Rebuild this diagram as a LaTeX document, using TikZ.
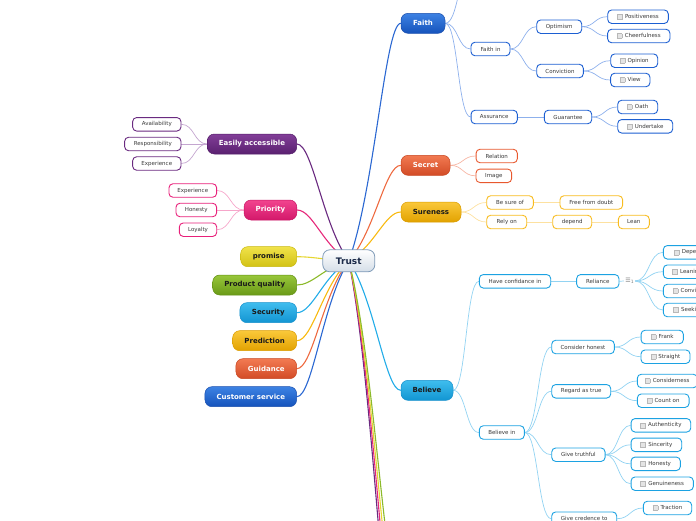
\documentclass[tikz,border=0pt]{standalone}
\usepackage{fontspec}
\setmainfont{DejaVu Sans}
\usetikzlibrary{calc,backgrounds}
\definecolor{bluetop}{HTML}{3D82E3}
\definecolor{bluebot}{HTML}{1553BC}
\definecolor{bluebd}{HTML}{1A4FAE}
\definecolor{blueln}{HTML}{2B68D2}
\definecolor{bluesub}{HTML}{1C5FD2}
\definecolor{bluesl}{HTML}{8DB0EC}
\definecolor{redtop}{HTML}{F27A52}
\definecolor{redbot}{HTML}{D24B26}
\definecolor{redbd}{HTML}{C8451F}
\definecolor{redln}{HTML}{EE6A40}
\definecolor{redsub}{HTML}{E8582E}
\definecolor{redsl}{HTML}{F7B6A4}
\definecolor{goldtop}{HTML}{FAC83A}
\definecolor{goldbot}{HTML}{E2A200}
\definecolor{goldbd}{HTML}{DA9C00}
\definecolor{goldln}{HTML}{F8BA10}
\definecolor{goldsub}{HTML}{F8BC20}
\definecolor{goldsl}{HTML}{FDE1A0}
\definecolor{skytop}{HTML}{3FBDEE}
\definecolor{skybot}{HTML}{1295D2}
\definecolor{skybd}{HTML}{1590CC}
\definecolor{skyln}{HTML}{22ACE8}
\definecolor{skysub}{HTML}{1CA2E2}
\definecolor{skysl}{HTML}{92D3F2}
\definecolor{purtop}{HTML}{823E98}
\definecolor{purbot}{HTML}{5A2070}
\definecolor{purbd}{HTML}{521C68}
\definecolor{purln}{HTML}{6A2A80}
\definecolor{pursub}{HTML}{6A2A80}
\definecolor{pursl}{HTML}{C4A6D0}
\definecolor{pintop}{HTML}{F2448F}
\definecolor{pinbot}{HTML}{D3186A}
\definecolor{pinbd}{HTML}{C81464}
\definecolor{pinln}{HTML}{E6287A}
\definecolor{pinsub}{HTML}{E8207A}
\definecolor{pinsl}{HTML}{F6A6CA}
\definecolor{yeltop}{HTML}{F0E24A}
\definecolor{yelbot}{HTML}{D2C214}
\definecolor{yelbd}{HTML}{C8B810}
\definecolor{yelln}{HTML}{E6D630}
\definecolor{grntop}{HTML}{98C63A}
\definecolor{grnbot}{HTML}{6A9A18}
\definecolor{grnbd}{HTML}{629014}
\definecolor{grnln}{HTML}{8CBA2A}
\definecolor{trbot}{HTML}{D5DEE8}
\definecolor{trbd}{HTML}{7F9BB8}
\definecolor{trtx}{HTML}{1C2B4A}
\definecolor{subtx}{HTML}{3A3A3A}
\definecolor{darktx}{HTML}{1A1A1A}
\definecolor{chkfill}{HTML}{E4E4E4}
\definecolor{chkbd}{HTML}{B8B8B8}
\newcommand{\chk}{{\setlength{\fboxsep}{0pt}\setlength{\fboxrule}{0.35pt}\raisebox{-0.6pt}{\fcolorbox{chkbd}{chkfill}{\rule{0pt}{4.6pt}\rule{4.6pt}{0pt}}}}\hspace{2.5pt}}
\tikzset{
 mbox/.style n args={4}{rounded corners=7pt, minimum height=20pt, inner sep=0pt, line width=0.5pt, font=\fontsize{7}{8}\selectfont\bfseries, top color=#1, bottom color=#2, draw=#3, text=#4},
 sbox/.style={draw=#1, fill=white, rounded corners=4pt, minimum height=13.5pt, inner sep=0pt, line width=0.9pt, font=\fontsize{5.5}{6.5}\selectfont, text=subtx},
 mline/.style={draw=#1, line width=1.1pt, line cap=round, to path={let \p1=(\tikztostart), \p2=(\tikztotarget) in .. controls ({\x1+0.5*(\x2-\x1)},{\y1+0.3*(\y2-\y1)}) and ({\x2-0.3*(\x2-\x1)},{\y2}) .. (\tikztotarget)}},
 sline/.style={draw=#1, line width=0.7pt, to path={let \p1=(\tikztostart), \p2=(\tikztotarget) in .. controls ({0.5*(\x1+\x2)},{\y1}) and ({0.5*(\x1+\x2)},{\y2}) .. (\tikztotarget)}},
}
\begin{document}
\begin{tikzpicture}[x=1pt,y=-1pt]
\useasboundingbox (0,0) rectangle (696,520);
\clip (0,0) rectangle (696,520);
% centre
\node[rounded corners=7pt, minimum width=52pt, minimum height=22pt, inner sep=0pt, top color=white, bottom color=trbot, draw=trbd, line width=0.8pt, text=trtx, font=\fontsize{9}{10}\selectfont\bfseries] (trust) at (348.8,260.8) {Trust};
% main right
\node[mbox={bluetop}{bluebot}{bluebd}{white}, minimum width=44pt] (faith) at (423,23.3) {Faith};
\node[mbox={redtop}{redbot}{redbd}{white}, minimum width=49pt] (secret) at (425.5,165.3) {Secret};
\node[mbox={goldtop}{goldbot}{goldbd}{darktx}, minimum width=60pt] (sure) at (431,212) {Sureness};
\node[mbox={skytop}{skybot}{skybd}{darktx}, minimum width=52pt] (believe) at (427,390.3) {Believe};
% main left
\node[mbox={purtop}{purbot}{purbd}{white}, minimum width=89.4pt] (easy) at (252,144) {Easily accessible};
\node[mbox={pintop}{pinbot}{pinbd}{white}, minimum width=52.7pt] (prio) at (270.4,210) {Priority};
\node[mbox={yeltop}{yelbot}{yelbd}{darktx}, minimum width=56pt] (promise) at (268.7,256.7) {promise};
\node[mbox={grntop}{grnbot}{grnbd}{darktx}, minimum width=84pt] (pq) at (254.7,285) {Product quality};
\node[mbox={skytop}{skybot}{skybd}{darktx}, minimum width=56.7pt] (sec) at (268.3,312.7) {Security};
\node[mbox={goldtop}{goldbot}{goldbd}{darktx}, minimum width=64pt] (pred) at (264.7,340.7) {Prediction};
\node[mbox={redtop}{redbot}{redbd}{white}, minimum width=60.7pt] (guid) at (266.3,368.7) {Guidance};
\node[mbox={bluetop}{bluebot}{bluebd}{white}, minimum width=91.7pt] (cust) at (250.8,396.7) {Customer service};
% left subs
\node[sbox=pursub, minimum width=48.3pt] (avail) at (156.8,124.3) {Availability};
\node[sbox=pursub, minimum width=56.3pt] (resp) at (152.8,144) {Responsibility};
\node[sbox=pursub, minimum width=48.3pt] (exp1) at (156.8,163.5) {Experience};
\node[sbox=pinsub, minimum width=47.7pt] (exp2) at (192.8,190.5) {Experience};
\node[sbox=pinsub, minimum width=40.7pt] (hon1) at (196.3,210) {Honesty};
\node[sbox=pinsub, minimum width=37.4pt] (loy) at (198,229.7) {Loyalty};
% faith subs
\node[sbox=bluesub, minimum width=39pt] (faithin) at (490.5,49) {Faith in};
\node[sbox=bluesub, minimum width=45pt] (optim) at (559.2,26.7) {Optimism};
\node[sbox=bluesub, minimum width=60.6pt] (posit) at (638,16.7) {\chk Positiveness};
\node[sbox=bluesub, minimum width=62.3pt] (cheer) at (638.8,36) {\chk Cheerfulness};
\node[sbox=bluesub, minimum width=46.6pt] (convic) at (560,71) {Conviction};
\node[sbox=bluesub, minimum width=47pt] (opin) at (634.2,60.7) {\chk Opinion};
\node[sbox=bluesub, minimum width=39.3pt] (view) at (630.3,80) {\chk View};
\node[sbox=bluesub, minimum width=46.3pt] (assur) at (494.2,117) {Assurance};
\node[sbox=bluesub, minimum width=47.4pt] (guar) at (568,117) {Guarantee};
\node[sbox=bluesub, minimum width=40pt] (oath) at (637.7,107) {\chk Oath};
\node[sbox=bluesub, minimum width=55pt] (under) at (645.2,126.3) {\chk Undertake};
\coordinate (ftop) at (471,-30);
% secret subs
\node[sbox=redsub, minimum width=41.3pt] (relat) at (496.7,156) {Relation};
\node[sbox=redsub, minimum width=35.7pt] (image) at (493.8,175.8) {Image};
% sureness subs
\node[sbox=goldsub, minimum width=46.6pt] (besure) at (510,202.5) {Be sure of};
\node[sbox=goldsub, minimum width=62.7pt] (free) at (591.3,202.5) {Free from doubt};
\node[sbox=goldsub, minimum width=40pt] (rely) at (506.7,222) {Rely on};
\node[sbox=goldsub, minimum width=39pt] (depend) at (572.2,222) {depend};
\node[sbox=goldsub, minimum width=31pt] (lean) at (633.8,222) {Lean};
% believe subs
\node[sbox=skysub, minimum width=71.4pt] (haveconf) at (515,281.3) {Have confidance in};
\node[sbox=skysub, minimum width=42.3pt] (reli) at (597.8,281.3) {Reliance};
\node[inner sep=0pt, minimum width=11pt, minimum height=8pt, text=gray, font=\fontsize{6}{6}\selectfont] (relicon) at (629.5,281) {☰\raisebox{-1.2pt}{\fontsize{4.5}{5}\selectfont 1}};
\node[sbox=skysub, minimum width=64pt] (dep) at (695.3,252.3) {\chk Dependence};
\node[sbox=skysub, minimum width=56pt] (leanc) at (691.3,271.7) {\chk Leaning on};
\node[sbox=skysub, minimum width=56pt] (convc) at (691.3,291) {\chk Conviction};
\node[sbox=skysub, minimum width=50pt] (seek) at (688.3,310) {\chk Seeking};
\node[sbox=skysub, minimum width=45pt] (believein) at (501.8,432.5) {Believe in};
\node[sbox=skysub, minimum width=62.6pt] (conshon) at (583,347) {Consider honest};
\node[sbox=skysub, minimum width=42.3pt] (frank) at (662.2,337) {\chk Frank};
\node[sbox=skysub, minimum width=49pt] (straight) at (665.5,356.7) {\chk Straight};
\node[sbox=skysub, minimum width=59pt] (regard) at (581.2,391.3) {Regard as true};
\node[sbox=skysub, minimum width=60pt] (considn) at (667.3,381) {\chk Considerness};
\node[sbox=skysub, minimum width=51.7pt] (counton) at (663.2,400.7) {\chk Count on};
\node[sbox=skysub, minimum width=53.3pt] (givetr) at (578.4,454.7) {Give truthful};
\node[sbox=skysub, minimum width=59.7pt] (authen) at (660.9,425.3) {\chk Authenticity};
\node[sbox=skysub, minimum width=50.7pt] (sinc) at (656.4,444.8) {\chk Sincerity};
\node[sbox=skysub, minimum width=49.3pt] (hon2) at (655.7,463.8) {\chk Honesty};
\node[sbox=skysub, minimum width=62.3pt] (genu) at (662.2,483.7) {\chk Genuineness};
\node[sbox=skysub, minimum width=65pt] (givecr) at (584.2,518.7) {Give credence to};
\node[sbox=skysub, minimum width=48.4pt] (tract) at (667.5,508) {\chk Traction};
% off-picture ends
\coordinate (bot1) at (401,700);
\coordinate (bot2) at (401,666);
\coordinate (bot3) at (401,633);
\coordinate (bot4) at (401,600);
\begin{scope}[on background layer]
\clip (0,0) rectangle (696,520);
% main connectors
\draw[mline=purln] (trust.center) to (bot1);
\draw[mline=pinln] (trust.center) to (bot2);
\draw[mline=yelln] (trust.center) to (bot3);
\draw[mline=grnln] (trust.center) to (bot4);
\draw[mline=blueln] (trust.center) to (faith.west);
\draw[mline=redln] (trust.center) to (secret.west);
\draw[mline=goldln] (trust.center) to (sure.west);
\draw[mline=skyln] (trust.center) to (believe.west);
\draw[mline=purln] (trust.center) to (easy.east);
\draw[mline=pinln] (trust.center) to (prio.east);
\draw[mline=yelln] (trust.center) to (promise.east);
\draw[mline=grnln] (trust.center) to (pq.east);
\draw[mline=skyln] (trust.center) to (sec.east);
\draw[mline=goldln] (trust.center) to (pred.east);
\draw[mline=redln] (trust.center) to (guid.east);
\draw[mline=blueln] (trust.center) to (cust.east);
% left sub connectors
\foreach \t in {avail,resp,exp1} \draw[sline=pursl] (easy.west) to (\t.east);
\foreach \t in {exp2,hon1,loy} \draw[sline=pinsl] (prio.west) to (\t.east);
% faith
\foreach \t in {faithin,assur} \draw[sline=bluesl] (faith.east) to (\t.west);
\draw[sline=bluesl] (faith.east) to (ftop);
\foreach \t in {optim,convic} \draw[sline=bluesl] (faithin.east) to (\t.west);
\foreach \t in {posit,cheer} \draw[sline=bluesl] (optim.east) to (\t.west);
\foreach \t in {opin,view} \draw[sline=bluesl] (convic.east) to (\t.west);
\draw[sline=bluesl] (assur.east) to (guar.west);
\foreach \t in {oath,under} \draw[sline=bluesl] (guar.east) to (\t.west);
% secret
\foreach \t in {relat,image} \draw[sline=redsl] (secret.east) to (\t.west);
% sureness
\foreach \t in {besure,rely} \draw[sline=goldsl] (sure.east) to (\t.west);
\draw[sline=goldsl] (besure.east) to (free.west);
\draw[sline=goldsl] (rely.east) to (depend.west);
\draw[sline=goldsl] (depend.east) to (lean.west);
% believe
\foreach \t in {haveconf,believein} \draw[sline=skysl] (believe.east) to (\t.west);
\draw[sline=skysl] (haveconf.east) to (reli.west);
\draw[sline=skysl] (reli.east) to (relicon.west);
\foreach \t in {dep,leanc,convc,seek} \draw[sline=skysl] (relicon.east) to (\t.west);
\foreach \t in {conshon,regard,givetr,givecr} \draw[sline=skysl] (believein.east) to (\t.west);
\foreach \t in {frank,straight} \draw[sline=skysl] (conshon.east) to (\t.west);
\foreach \t in {considn,counton} \draw[sline=skysl] (regard.east) to (\t.west);
\foreach \t in {authen,sinc,hon2,genu} \draw[sline=skysl] (givetr.east) to (\t.west);
\draw[sline=skysl] (givecr.east) to (tract.west);
\end{scope}
\end{tikzpicture}
\end{document}
